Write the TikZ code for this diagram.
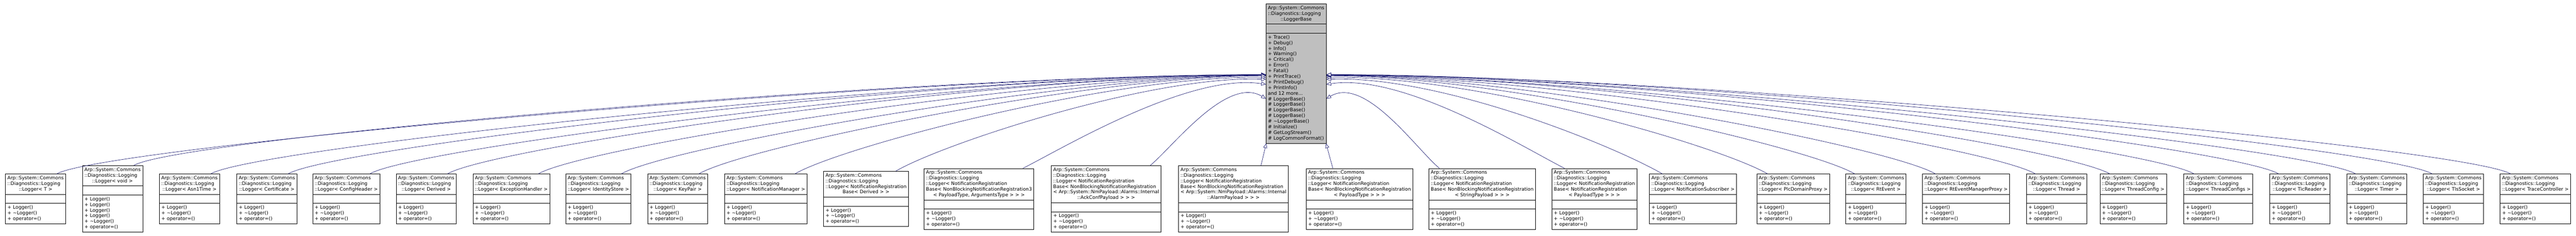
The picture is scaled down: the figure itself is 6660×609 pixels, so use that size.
\documentclass[tikz,border=0pt]{standalone}
\usepackage{fontspec}
\setmainfont{DejaVu Sans}
\usepackage{tikz}
\usetikzlibrary{calc,shapes.multipart,arrows.meta}
\definecolor{edgeblue}{HTML}{191970}
\newcommand\clsfont{\fontsize{12.3}{14.5}\selectfont}
% class title: left lines, last line centred
\newcommand\ctitle[2]{\begin{tabular}{@{}l@{}}#1\\\multicolumn{1}{@{}c@{}}{#2}\end{tabular}}
\newcommand\lgr[1]{\ctitle{Arp::System::Commons\\::Diagnostics::Logging}{::Logger< #1 >}}
\newcommand\lmembers{\begin{tabular}{@{}l@{}}+ Logger()\\+ \textasciitilde Logger()\\+ operator=()\end{tabular}}
\tikzset{
  cls/.style={ % image of a class box
    draw=black, line width=0.9pt, rectangle split,
    rectangle split parts=3, fill=white,
    rectangle split part align={left},
    font=\clsfont, inner xsep=5pt, inner ysep=4pt
  },
  base/.style={cls, fill=black!25},
  inherit/.style={
    draw=edgeblue, line width=0.9pt,
    -{Triangle[fill=white, length=12pt, width=10pt]}
  }
}

\begin{document}
\begin{tikzpicture}[x=1pt,y=-1pt]
  \useasboundingbox (0,0) rectangle (6660,609);

  \node[base] (base) at (3351,190) {\nodepart{one}\ctitle{Arp::System::Commons\\::Diagnostics::Logging}{::LoggerBase}
    \nodepart{two}\strut
    \nodepart{three}\begin{tabular}{@{}l@{}}+ Trace()\\+ Debug()\\+ Info()\\+ Warning()\\+ Critical()\\+ Error()\\+ Fatal()\\+ PrintTrace()\\+ PrintDebug()\\+ PrintInfo()\\and 12 more...\\\# LoggerBase()\\\# LoggerBase()\\\# LoggerBase()\\\# LoggerBase()\\\# \textasciitilde LoggerBase()\\\# Initialize()\\\# GetLogStream()\\\# LogCommonFormat()\end{tabular}};

  \node[cls] (t) at (92,514) {\lgr{T}\nodepart{two}\strut\nodepart{three}\lmembers};
  \node[cls] (void) at (291,514) {\lgr{void}\nodepart{two}\strut\nodepart{three}\begin{tabular}{@{}l@{}}+ Logger()\\+ Logger()\\+ Logger()\\+ Logger()\\+ \textasciitilde Logger()\\+ operator=()\end{tabular}};
  \node[cls] (asn) at (490,514) {\lgr{Asn1Time}\nodepart{two}\strut\nodepart{three}\lmembers};
  \node[cls] (cert) at (690,514) {\lgr{Certificate}\nodepart{two}\strut\nodepart{three}\lmembers};
  \node[cls] (cfg) at (895,514) {\lgr{ConfigHeader}\nodepart{two}\strut\nodepart{three}\lmembers};
  \node[cls] (derived) at (1102,514) {\lgr{Derived}\nodepart{two}\strut\nodepart{three}\lmembers};
  \node[cls] (exc) at (1322,514) {\lgr{ExceptionHandler}\nodepart{two}\strut\nodepart{three}\lmembers};
  \node[cls] (ident) at (1547,514) {\lgr{IdentityStore}\nodepart{two}\strut\nodepart{three}\lmembers};
  \node[cls] (keypair) at (1752,514) {\lgr{KeyPair}\nodepart{two}\strut\nodepart{three}\lmembers};
  \node[cls] (nmgr) at (1980,514) {\lgr{NotificationManager}\nodepart{two}\strut\nodepart{three}\lmembers};
  \node[cls] (nrbd) at (2239,514) {\ctitle{Arp::System::Commons\\::Diagnostics::Logging\\::Logger< NotificationRegistration}{Base< Derived > >}\nodepart{two}\strut\nodepart{three}\lmembers};
  \node[cls] (nbthree) at (2531,514) {\ctitle{Arp::System::Commons\\::Diagnostics::Logging\\::Logger< NotificationRegistration\\Base< NonBlockingNotificationRegistration3}{< PayloadType, ArgumentsType > > >}\nodepart{two}\strut\nodepart{three}\lmembers};
  \node[cls] (ackconf) at (2860,514) {\ctitle{Arp::System::Commons\\::Diagnostics::Logging\\::Logger< NotificationRegistration\\Base< NonBlockingNotificationRegistration\\< Arp::System::NmPayload::Alarms::Internal}{::AckConfPayload > > >}\nodepart{two}\strut\nodepart{three}\lmembers};
  \node[cls] (alarm) at (3189,514) {\ctitle{Arp::System::Commons\\::Diagnostics::Logging\\::Logger< NotificationRegistration\\Base< NonBlockingNotificationRegistration\\< Arp::System::NmPayload::Alarms::Internal}{::AlarmPayload > > >}\nodepart{two}\strut\nodepart{three}\lmembers};
  \node[cls] (nbpay) at (3515,514) {\ctitle{Arp::System::Commons\\::Diagnostics::Logging\\::Logger< NotificationRegistration\\Base< NonBlockingNotificationRegistration}{< PayloadType > > >}\nodepart{two}\strut\nodepart{three}\lmembers};
  \node[cls] (nbstr) at (3832,514) {\ctitle{Arp::System::Commons\\::Diagnostics::Logging\\::Logger< NotificationRegistration\\Base< NonBlockingNotificationRegistration}{< StringPayload > > >}\nodepart{two}\strut\nodepart{three}\lmembers};
  \node[cls] (nrpay) at (4122,514) {\ctitle{Arp::System::Commons\\::Diagnostics::Logging\\::Logger< NotificationRegistration\\Base< NotificationRegistration}{< PayloadType > > >}\nodepart{two}\strut\nodepart{three}\lmembers};
  \node[cls] (nsub) at (4377,514) {\lgr{NotificationSubscriber}\nodepart{two}\strut\nodepart{three}\lmembers};
  \node[cls] (plc) at (4636,514) {\lgr{PlcDomainProxy}\nodepart{two}\strut\nodepart{three}\lmembers};
  \node[cls] (rtev) at (4850,514) {\lgr{RtEvent}\nodepart{two}\strut\nodepart{three}\lmembers};
  \node[cls] (rtmgr) at (5083,514) {\lgr{RtEventManagerProxy}\nodepart{two}\strut\nodepart{three}\lmembers};
  \node[cls] (thread) at (5317,514) {\lgr{Thread}\nodepart{two}\strut\nodepart{three}\lmembers};
  \node[cls] (tcfg) at (5515,514) {\lgr{ThreadConfig}\nodepart{two}\strut\nodepart{three}\lmembers};
  \node[cls] (tcfgs) at (5735,514) {\lgr{ThreadConfigs}\nodepart{two}\strut\nodepart{three}\lmembers};
  \node[cls] (tic) at (5946,514) {\lgr{TicReader}\nodepart{two}\strut\nodepart{three}\lmembers};
  \node[cls] (timer) at (6145,514) {\lgr{Timer}\nodepart{two}\strut\nodepart{three}\lmembers};
  \node[cls] (tls) at (6343,514) {\lgr{TlsSocket}\nodepart{two}\strut\nodepart{three}\lmembers};
  \node[cls] (trace) at (6555,514) {\lgr{TraceController}\nodepart{two}\strut\nodepart{three}\lmembers};

  % left side of the base class
  \draw[inherit] ($(t.north)!0.7!(t.north east)$) .. controls +(120,-70) and +(-900,0) .. ([yshift=-3pt]base.west);
  \draw[inherit] ($(void.north)!0.7!(void.north east)$) .. controls +(120,-70) and +(-900,0) .. ([yshift=-3pt]base.west);
  \draw[inherit] ($(asn.north)!0.7!(asn.north east)$) .. controls +(120,-70) and +(-800,0) .. ([yshift=-3pt]base.west);
  \draw[inherit] ($(cert.north)!0.7!(cert.north east)$) .. controls +(120,-70) and +(-800,0) .. ([yshift=-3pt]base.west);
  \draw[inherit] ($(cfg.north)!0.7!(cfg.north east)$) .. controls +(120,-70) and +(-700,0) .. ([yshift=-4pt]base.west);
  \draw[inherit] ($(derived.north)!0.7!(derived.north east)$) .. controls +(120,-70) and +(-700,0) .. ([yshift=-4pt]base.west);
  \draw[inherit] ($(exc.north)!0.7!(exc.north east)$) .. controls +(120,-70) and +(-600,0) .. ([yshift=-5pt]base.west);
  \draw[inherit] ($(ident.north)!0.7!(ident.north east)$) .. controls +(120,-70) and +(-500,0) .. ([yshift=-5pt]base.west);
  \draw[inherit] ($(keypair.north)!0.7!(keypair.north east)$) .. controls +(120,-70) and +(-450,0) .. ([yshift=-6pt]base.west);
  \draw[inherit] ($(nmgr.north)!0.7!(nmgr.north east)$) .. controls +(120,-70) and +(-400,-5) .. ([yshift=-10pt]base.west);
  \draw[inherit] ($(nrbd.north)!0.7!(nrbd.north east)$) .. controls +(120,-70) and +(-300,-10) .. ([yshift=-15pt]base.west);
  \draw[inherit] ($(nbthree.north)!0.8!(nbthree.north east)$) .. controls +(100,-50) and +(-200,-30) .. ([yshift=-28pt]base.west);
  \draw[inherit] ($(ackconf.north)!0.8!(ackconf.north east)$) .. controls +(60,-50) and +(-100,-60) .. ([yshift=-65pt]base.west);
  % bottom of the base class
  \draw[inherit] ($(alarm.north)!0.5!(alarm.north east)$) -- ([xshift=1pt]base.south west);
  \draw[inherit] ($(nbpay.north)!0.5!(nbpay.north west)$) -- ([xshift=-1pt]base.south east);
  % right side of the base class
  \draw[inherit] ($(nbstr.north)!0.8!(nbstr.north west)$) .. controls +(-60,-50) and +(100,-60) .. ([yshift=-65pt]base.east);
  \draw[inherit] ($(nrpay.north)!0.7!(nrpay.north west)$) .. controls +(-100,-50) and +(200,-30) .. ([yshift=-28pt]base.east);
  \draw[inherit] ($(nsub.north)!0.7!(nsub.north west)$) .. controls +(-120,-70) and +(300,-10) .. ([yshift=-15pt]base.east);
  \draw[inherit] ($(plc.north)!0.7!(plc.north west)$) .. controls +(-120,-70) and +(400,-5) .. ([yshift=-10pt]base.east);
  \draw[inherit] ($(rtev.north)!0.7!(rtev.north west)$) .. controls +(-120,-70) and +(450,0) .. ([yshift=-6pt]base.east);
  \draw[inherit] ($(rtmgr.north)!0.7!(rtmgr.north west)$) .. controls +(-120,-70) and +(500,0) .. ([yshift=-5pt]base.east);
  \draw[inherit] ($(thread.north)!0.7!(thread.north west)$) .. controls +(-120,-70) and +(600,0) .. ([yshift=-5pt]base.east);
  \draw[inherit] ($(tcfg.north)!0.7!(tcfg.north west)$) .. controls +(-120,-70) and +(700,0) .. ([yshift=-4pt]base.east);
  \draw[inherit] ($(tcfgs.north)!0.7!(tcfgs.north west)$) .. controls +(-120,-70) and +(700,0) .. ([yshift=-4pt]base.east);
  \draw[inherit] ($(tic.north)!0.7!(tic.north west)$) .. controls +(-120,-70) and +(800,0) .. ([yshift=-3pt]base.east);
  \draw[inherit] ($(timer.north)!0.7!(timer.north west)$) .. controls +(-120,-70) and +(800,0) .. ([yshift=-3pt]base.east);
  \draw[inherit] ($(tls.north)!0.7!(tls.north west)$) .. controls +(-120,-70) and +(900,0) .. ([yshift=-3pt]base.east);
  \draw[inherit] ($(trace.north)!0.7!(trace.north west)$) .. controls +(-120,-70) and +(900,0) .. ([yshift=-3pt]base.east);
\end{tikzpicture}
\end{document}
